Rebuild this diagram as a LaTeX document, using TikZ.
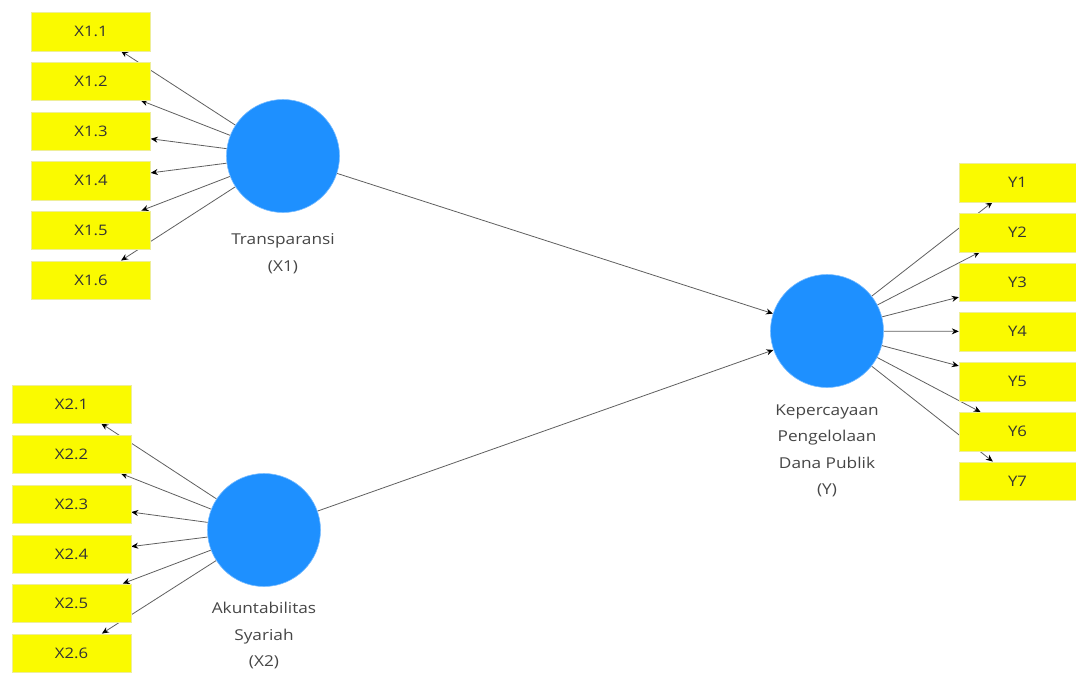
\documentclass[tikz,border=0pt]{standalone}
\usepackage{fontspec}
\setmainfont{Open Sans}[FakeStretch=1.15]
\usetikzlibrary{arrows.meta}
\pgfdeclarelayer{bg}
\pgfsetlayers{bg,main}
\definecolor{indyellow}{RGB}{250,250,0}
\definecolor{latblue}{RGB}{30,144,255}
\definecolor{linegray}{RGB}{95,95,95}
\definecolor{txtgray}{RGB}{70,70,70}
\tikzset{
  indbox/.style={rectangle, fill=indyellow, draw=indyellow!85!black!40, line width=0.4pt,
    minimum width=119pt, minimum height=38.5pt, inner sep=0pt, text=black!80,
    font=\fontsize{14.5}{16}\selectfont},
  indboxy/.style={indbox, minimum width=117pt},
  latent/.style={circle, fill=latblue, draw=latblue!60!white, line width=0.6pt, minimum size=113pt, inner sep=0pt},
  lab/.style={align=center, text=txtgray, font=\fontsize{15}{26.5}\selectfont},
  ld/.style={draw=linegray, line width=0.8pt, -{Stealth[length=7pt,width=6pt,color=black]}},
}
\begin{document}
\begin{tikzpicture}[x=1pt,y=-1pt]
\useasboundingbox (0,0) rectangle (1076,675);
% latent variables
\node[latent] (X1) at (283,156) {};
\node[latent] (X2) at (264,530) {};
\node[latent] (Y) at (827,331) {};
\node[lab, anchor=north] (lX1) at (283,230) {Transparansi\\(X1)};
\node[lab, anchor=north] (lX2) at (264,599) {Akuntabilitas\\Syariah\\(X2)};
\node[lab, anchor=north] (lY) at (827,401) {Kepercayaan\\Pengelolaan\\Dana Publik\\(Y)};
% indicators X1
\node[indbox] (x11) at (91,31.5) {X1.1};
\node[indbox] (x12) at (91,81) {X1.2};
\node[indbox] (x13) at (91,131) {X1.3};
\node[indbox] (x14) at (91,180.5) {X1.4};
\node[indbox] (x15) at (91,230) {X1.5};
\node[indbox] (x16) at (91,280) {X1.6};
% indicators X2
\node[indbox] (x21) at (71.5,404) {X2.1};
\node[indbox] (x22) at (71.5,454) {X2.2};
\node[indbox] (x23) at (71.5,504) {X2.3};
\node[indbox] (x24) at (71.5,554) {X2.4};
\node[indbox] (x25) at (71.5,603) {X2.5};
\node[indbox] (x26) at (71.5,653) {X2.6};
% indicators Y
\node[indboxy] (y1) at (1017.5,182.5) {Y1};
\node[indboxy] (y2) at (1017.5,232.5) {Y2};
\node[indboxy] (y3) at (1017.5,282) {Y3};
\node[indboxy] (y4) at (1017.5,331.5) {Y4};
\node[indboxy] (y5) at (1017.5,381.5) {Y5};
\node[indboxy] (y6) at (1017.5,431.5) {Y6};
\node[indboxy] (y7) at (1017.5,481) {Y7};
\begin{pgfonlayer}{bg}
\foreach \t in {x11,x12,x13,x14,x15,x16} \draw[ld] (X1) -- (\t);
\foreach \t in {x21,x22,x23,x24,x25,x26} \draw[ld] (X2) -- (\t);
\foreach \t in {y1,y2,y3,y4,y5,y6,y7} \draw[ld] (Y) -- (\t);
\draw[ld] (X1) -- (Y);
\draw[ld] (X2) -- (Y);
\end{pgfonlayer}
\end{tikzpicture}
\end{document}
